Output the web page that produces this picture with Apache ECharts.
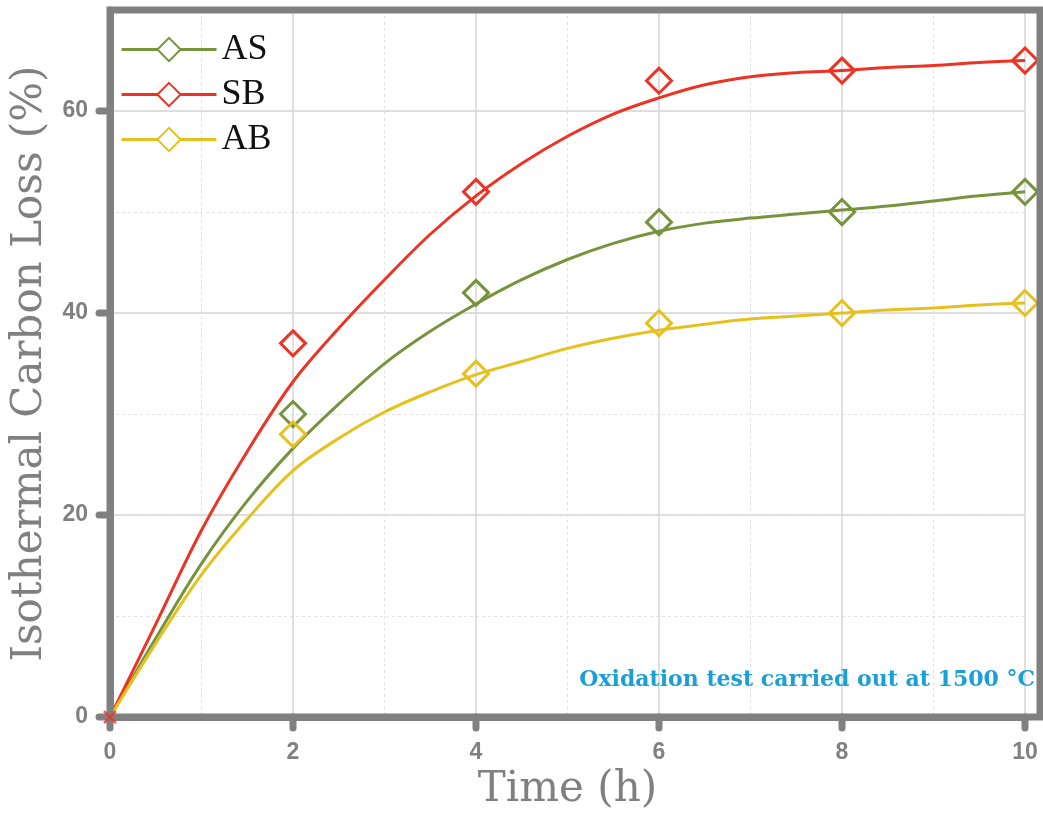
<!DOCTYPE html>
<html>
<head>
<meta charset="utf-8">
<script src="https://cdn.jsdelivr.net/npm/echarts@6/dist/echarts.min.js"></script>
<style>
  html, body { margin: 0; padding: 0; background: #fff; }
  #chart { width: 1043px; height: 816px; }
</style>
</head>
<body>
<div id="chart"></div>
<script>
// measured points (diamonds)
var hours = [2, 4, 6, 8, 10];
var asPoints = [30, 42, 49, 50, 52];
var sbPoints = [37, 52, 63, 64, 65];
var abPoints = [28, 34, 39, 40, 41];

// fitted curves, every 0.5 h
var fitHours = [0, 0.5, 1, 1.5, 2, 2.5, 3, 3.5, 4, 4.5, 5, 5.5, 6, 6.5, 7, 7.5, 8, 8.5, 9, 9.5, 10];
var asFit = [0, 7.8, 15.2, 21.4, 26.6, 31.0, 35.0, 38.2, 40.9, 43.3, 45.3, 46.9, 48.1, 48.9, 49.4, 49.8, 50.2, 50.6, 51.1, 51.6, 52.0];
var sbFit = [0, 9.2, 18.5, 26.3, 33.2, 38.5, 43.3, 47.8, 51.6, 54.8, 57.5, 59.7, 61.3, 62.6, 63.4, 63.8, 64.0, 64.3, 64.5, 64.8, 65.0];
var abFit = [0, 7.3, 14.1, 19.6, 24.4, 27.6, 30.2, 32.2, 33.9, 35.2, 36.5, 37.5, 38.3, 38.9, 39.4, 39.7, 40.0, 40.3, 40.5, 40.8, 41.0];

var originPoint = [0, 0];
var xTickValues = [0, 2, 4, 6, 8, 10];
var yLabelValues = [0, 20, 40, 60];

var names = ['AS', 'SB', 'AB'];
var colors = ['#77933c', '#ec3324', '#e6c11e'];
var grey = '#808080';

function pairs(xs, ys) {
	return xs.map(function (x, i) { return [x, ys[i]]; });
}

var fits = [asFit, sbFit, abFit];
var points = [asPoints, sbPoints, abPoints];

var series = [];
names.forEach(function (name, i) {
	series.push({
		name: name,
		type: 'line',
		data: pairs(fitHours, fits[i]),
		smooth: 0.35,
		showSymbol: false,
		symbol: 'emptyDiamond',
		symbolSize: 22,
		color: colors[i],
		itemStyle: { color: colors[i], borderWidth: 3 },
		lineStyle: { width: 3, color: colors[i] },
		z: 3
	});
});
names.forEach(function (name, i) {
	series.push({
		name: name,
		type: 'scatter',
		data: pairs(hours, points[i]),
		symbol: 'diamond',
		symbolSize: 25,
		itemStyle: { color: 'rgba(0,0,0,0)', borderColor: colors[i], borderWidth: 3, opacity: 1 },
		z: 4
	});
});
series.push({
	name: 'origin',
	type: 'scatter',
	data: [originPoint],
	symbol: 'path://M0,0L10,10M10,0L0,10',
	symbolSize: 12,
	itemStyle: { color: 'rgba(0,0,0,0)', borderColor: colors[1], borderWidth: 2.5 },
	z: 12
});

var chart = echarts.init(document.getElementById('chart'));
var option = {
	backgroundColor: '#fff',
	animation: false,
	grid: { left: 110, right: 18, top: 10, bottom: 96 },
	legend: {
		data: names,
		left: 115,
		top: 22,
		orient: 'vertical',
		itemWidth: 95,
		itemHeight: 29,
		itemGap: 0,
		textStyle: { fontFamily: 'Liberation Serif', fontSize: 36, color: '#111', lineHeight: 45 },
		lineStyle: { width: 3 }
	},
	xAxis: {
		type: 'value',
		min: 0,
		max: 10,
		interval: 2,
		name: 'Time (h)',
		nameLocation: 'middle',
		nameGap: 50,
		nameTextStyle: { fontFamily: 'DejaVu Serif', fontSize: 42, color: grey },
		axisLine: { show: true, lineStyle: { width: 7, color: grey } },
		axisTick: { show: false },
		axisLabel: { margin: 24, fontFamily: 'Liberation Sans', fontWeight: 'bold', fontSize: 23, color: grey },
		splitLine: { show: true, lineStyle: { color: '#d6d6d6', width: 1.5 } },
		minorTick: { show: false, splitNumber: 2 },
		minorSplitLine: { show: true, lineStyle: { color: '#e2e2e2', width: 1, type: [3, 3] } }
	},
	yAxis: [{
		type: 'value',
		min: 0,
		max: 70,
		interval: 10,
		name: 'Isothermal Carbon Loss (%)',
		nameLocation: 'middle',
		nameGap: 58,
		nameTextStyle: { fontFamily: 'DejaVu Serif', fontSize: 42, color: grey },
		axisLine: { show: true, lineStyle: { width: 7, color: grey } },
		axisTick: { show: false },
		axisLabel: { margin: 22, customValues: yLabelValues, fontFamily: 'Liberation Sans', fontWeight: 'bold', fontSize: 23, color: grey },
		splitLine: { show: true, lineStyle: { color: '#e2e2e2', width: 1, type: [3, 3] } }
	}, {
		type: 'value',
		min: 0,
		max: 70,
		interval: 20,
		position: 'left',
		axisLine: { show: false },
		axisTick: { show: false },
		axisLabel: { show: false },
		splitLine: { show: true, lineStyle: { color: '#d6d6d6', width: 1.5 } }
	}],
	series: series
};
chart.setOption(option);

// frame, outward ticks and the note, placed from the axes
var x0 = chart.convertToPixel({ xAxisIndex: 0 }, 0);
var x10 = chart.convertToPixel({ xAxisIndex: 0 }, 10);
var y0 = chart.convertToPixel({ yAxisIndex: 0 }, 0);
var yTop = chart.convertToPixel({ yAxisIndex: 0 }, 70);
var tickLine = { stroke: grey, lineWidth: 7, lineCap: 'round' };

var graphics = [{
	type: 'rect',
	shape: { x: x0, y: yTop, width: x10 + 15 - x0, height: y0 - yTop },
	style: { fill: 'none', stroke: grey, lineWidth: 7 },
	z: 10
}, {
	type: 'text',
	right: 1043 - (x10 + 10),
	top: y0 - 48,
	style: {
		text: 'Oxidation test carried out at 1500 °C',
		font: 'bold 22px "DejaVu Serif"',
		fill: '#1a9fd6'
	},
	z: 10
}];
xTickValues.forEach(function (v) {
	var px = chart.convertToPixel({ xAxisIndex: 0 }, v);
	graphics.push({ type: 'line', shape: { x1: px, y1: y0, x2: px, y2: y0 + 11 }, style: tickLine, z: 10 });
});
yLabelValues.forEach(function (v) {
	var py = chart.convertToPixel({ yAxisIndex: 0 }, v);
	graphics.push({ type: 'line', shape: { x1: x0, y1: py, x2: x0 - 11, y2: py }, style: tickLine, z: 10 });
});
chart.setOption({ graphic: graphics });
</script>
</body>
</html>
